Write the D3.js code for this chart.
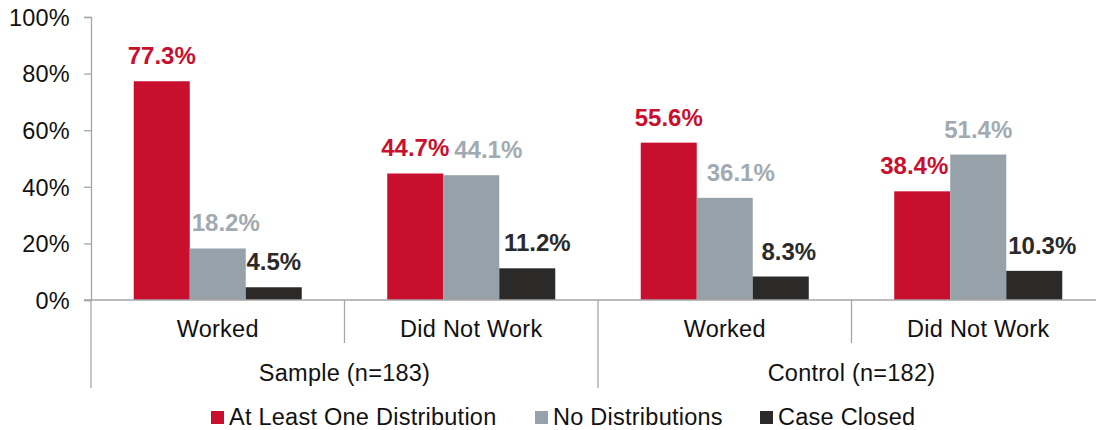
<!DOCTYPE html>
<html>
<head>
<meta charset="utf-8">
<script src="https://cdn.jsdelivr.net/npm/d3@7"></script>
<style>
  html, body { margin: 0; padding: 0; background: #fff; }
  svg { display: block; font-family: "Liberation Sans", Arial, sans-serif; }
  .reg { letter-spacing: 0.25px; }
</style>
</head>
<body>
<svg id="chart" width="1096" height="430"></svg>
<script>
// ---- data ----
const categories = ["Worked", "Did Not Work", "Worked", "Did Not Work"];
const superGroups = ["Sample (n=183)", "Control (n=182)"];
const seriesNames = ["At Least One Distribution", "No Distributions", "Case Closed"];
const atLeastOne = [77.3, 44.7, 55.6, 38.4];
const noDistributions = [18.2, 44.1, 36.1, 51.4];
const caseClosed = [4.5, 11.2, 8.3, 10.3];
const yTicks = [0, 20, 40, 60, 80, 100];

// ---- styles / layout ----
const colors = ["#C8102E", "#97A1A9", "#2B2A29"];
const labelColors = ["#C8102E", "#A2AAB1", "#2B2A29"];
const labelNudge = [[0, 8, 0], [0, 17, 10], [0, 16, 8], [-8, 0, 8]];
const axisColor = "#A6A6A6";
const fs = "23.5px";

const svg = d3.select("#chart");
const plotLeft = 91, plotTop = 17, plotBottom = 300, groupW = 253.5;
const plotRight = plotLeft + groupW * categories.length;

const series = [atLeastOne, noDistributions, caseClosed];

const x0 = d3.scaleBand().domain(d3.range(categories.length)).range([plotLeft, plotRight]).paddingInner(0).paddingOuter(0);
const x1 = d3.scaleBand().domain(d3.range(series.length)).range([0, x0.bandwidth()]).paddingInner(0).paddingOuter(0.763);
const y = d3.scaleLinear().domain([0, 100]).range([plotBottom, plotTop]);

// y axis
const yAxis = d3.axisLeft(y).tickValues(yTicks).tickFormat(d => d + "%").tickSize(7).tickPadding(14);
const yg = svg.append("g").attr("transform", `translate(${plotLeft},0)`).call(yAxis);
yg.attr("font-family", null).attr("font-size", null);
yg.select(".domain").attr("stroke", axisColor).attr("stroke-width", 1.3);
yg.selectAll(".tick line").attr("stroke", axisColor).attr("stroke-width", 1.3);
yg.selectAll(".tick text").attr("fill", "#111").attr("class", "reg").style("font-size", fs).attr("dy", "0.35em");

// bars
const groups = svg.append("g").selectAll("g").data(categories).join("g")
  .attr("transform", (d, i) => `translate(${x0(i)},0)`);

groups.each(function (c, gi) {
  const g = d3.select(this);
  series.forEach((s, si) => {
    g.append("rect")
      .attr("x", x1(si))
      .attr("y", y(s[gi]))
      .attr("width", x1.bandwidth())
      .attr("height", y(0) - y(s[gi]))
      .attr("fill", colors[si]);
    g.append("text")
      .attr("x", x1(si) + x1.bandwidth() / 2 + labelNudge[gi][si])
      .attr("y", y(s[gi]) - 17)
      .attr("text-anchor", "middle")
      .attr("fill", labelColors[si])
      .style("font-size", "24px")
      .style("font-weight", "bold")
      .text(s[gi].toFixed(1) + "%");
  });
});

// x axis line
svg.append("line").attr("x1", plotLeft - 7).attr("x2", 1096).attr("y1", plotBottom).attr("y2", plotBottom)
  .attr("stroke", axisColor).attr("stroke-width", 1.3);

// separators
d3.range(categories.length + 1).forEach(i => {
  const xx = plotLeft + i * groupW;
  const major = i % 2 === 0;
  svg.append("line").attr("x1", xx).attr("x2", xx).attr("y1", plotBottom).attr("y2", major ? 388 : 343)
    .attr("stroke", axisColor).attr("stroke-width", 1.3);
});

// category labels
categories.forEach((c, i) => {
  svg.append("text").attr("class", "reg").attr("x", x0(i) + x0.bandwidth() / 2).attr("y", 337)
    .attr("text-anchor", "middle").attr("fill", "#111").style("font-size", fs).text(c);
});
superGroups.forEach((s, i) => {
  svg.append("text").attr("class", "reg").attr("x", plotLeft + groupW * (2 * i + 1)).attr("y", 381)
    .attr("text-anchor", "middle").attr("fill", "#111").style("font-size", fs).text(s);
});

// legend
const legendX = [211, 535, 760];
seriesNames.forEach((n, i) => {
  svg.append("rect").attr("x", legendX[i]).attr("y", 411).attr("width", 13).attr("height", 13).attr("fill", colors[i]);
  svg.append("text").attr("class", "reg").attr("x", legendX[i] + 18).attr("y", 425).attr("fill", "#111")
    .style("font-size", fs).text(n);
});
</script>
</body>
</html>
